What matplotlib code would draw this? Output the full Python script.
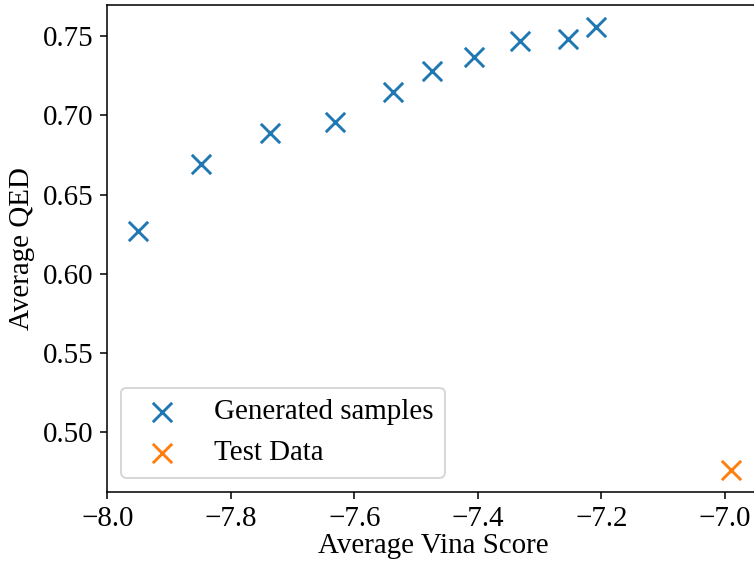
import matplotlib
matplotlib.use("Agg")
import matplotlib.pyplot as plt

plt.rcParams['font.family'] = ['Liberation Serif', 'DejaVu Serif']
plt.rcParams['font.size'] = 15

# Average Vina score vs average QED
gen_vina = [-7.951, -7.848, -7.736, -7.632, -7.538, -7.474, -7.407, -7.331, -7.254, -7.208]
gen_qed = [0.627, 0.669, 0.689, 0.696, 0.715, 0.728, 0.737, 0.747, 0.748, 0.756]
test_vina = [-6.990]
test_qed = [0.476]

dpi = 139
fig = plt.figure(figsize=(754 / dpi, 563 / dpi), dpi=dpi)
# original picture was cropped on the right, so the axes run past the edge
ax = fig.add_axes([106.75 / 754, (563 - 492.2) / 563, 654 / 754, 487.7 / 563])

ax.scatter(gen_vina, gen_qed, marker='x', s=100, label='Generated samples')
ax.scatter(test_vina, test_qed, marker='x', s=100, label='Test Data')
ax.set_xlim(left=-8.001)

ax.set_xlabel("Average Vina Score", labelpad=0.5)
ax.set_ylabel("Average QED")
ax.legend(loc='lower left')

fig.savefig("out.png", dpi=dpi)
